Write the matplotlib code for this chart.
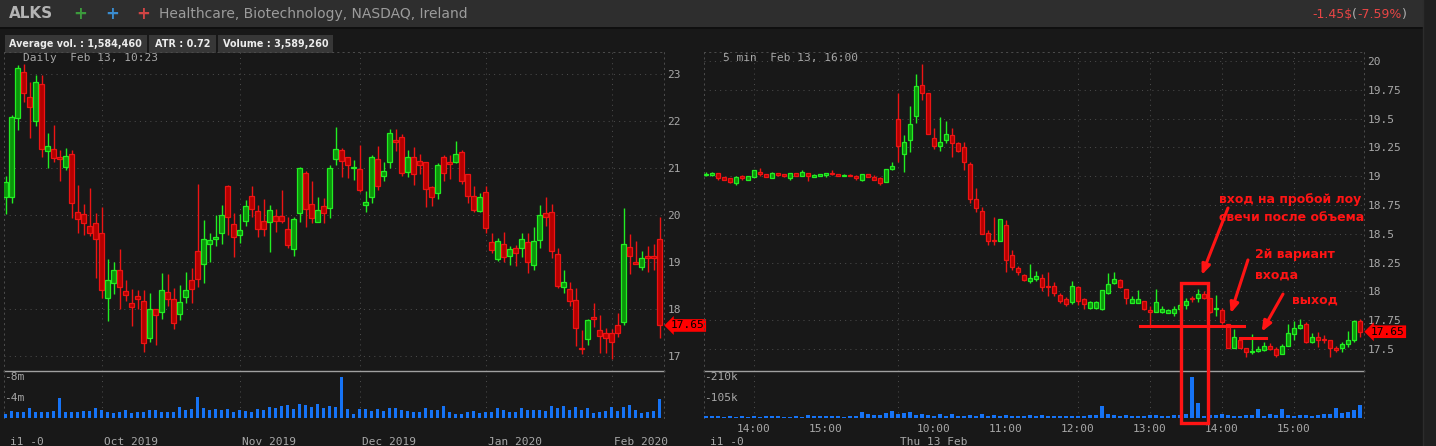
import matplotlib
matplotlib.use("Agg")
import matplotlib.pyplot as plt
from matplotlib.patches import Rectangle
from matplotlib.transforms import blended_transform_factory
import numpy as np
import pandas as pd

W, H = 1436, 446

# ----------------------------
# Daily panel data (Sep 9 2019 .. Feb 13 2020)
# ----------------------------
holidays = ["2019-11-28", "2019-12-25", "2020-01-01", "2020-01-20"]
daily_dates = pd.bdate_range("2019-09-09", "2020-02-13").drop(pd.to_datetime(holidays))

daily_open = [20.38, 20.39, 22.07, 23.04, 22.50, 21.99, 22.78, 21.36, 21.40, 21.23,
              21.03, 21.29, 20.06, 20.02, 19.77, 19.84, 19.62, 18.23, 18.55, 18.84,
              18.38, 18.12, 18.28, 18.16, 17.39, 17.99, 17.93, 18.36, 18.21, 17.89,
              18.26, 18.61, 19.23, 18.95, 19.38, 19.48, 19.61, 20.62, 19.81, 19.57,
              19.87, 20.40, 20.09, 19.87, 19.86, 19.98, 19.98, 19.70, 19.27, 20.05,
              20.89, 20.23, 19.86, 20.19, 20.14, 21.19, 21.38, 21.23, 21.00, 20.98,
              20.22, 20.39, 21.19, 20.82, 21.12, 21.60, 21.65, 20.91, 21.23, 21.15,
              21.12, 20.60, 20.46, 21.23, 21.12, 21.13, 21.33, 20.87, 20.40, 20.09,
              20.48, 19.42, 19.06, 19.38, 19.13, 19.30, 19.29, 19.42, 18.94, 19.47,
              20.04, 20.06, 19.17, 18.47, 18.42, 18.19, 17.17, 17.36, 17.83, 17.55,
              17.48, 17.48, 17.65, 17.72, 19.31, 19.01, 18.90, 19.13, 19.13, 19.48]
daily_high = [20.83, 22.13, 23.19, 23.21, 22.82, 22.98, 22.98, 21.74, 21.91, 21.38,
              21.43, 21.38, 20.64, 20.23, 20.58, 20.04, 20.18, 19.06, 18.99, 19.28,
              18.61, 18.42, 18.40, 18.40, 18.33, 18.01, 18.76, 18.74, 18.44, 18.51,
              18.78, 18.87, 20.66, 19.89, 19.62, 20.00, 20.21, 20.64, 20.04, 20.02,
              20.32, 20.62, 20.21, 20.33, 20.21, 20.12, 20.53, 19.96, 19.96, 21.03,
              20.94, 20.72, 20.38, 20.36, 21.06, 21.87, 21.42, 21.23, 21.17, 21.49,
              20.51, 21.28, 21.47, 21.13, 21.84, 21.82, 21.72, 21.38, 21.44, 21.30,
              21.12, 20.62, 21.10, 21.28, 21.27, 21.57, 21.38, 20.87, 20.62, 20.46,
              20.62, 19.62, 19.52, 19.64, 19.34, 19.36, 19.62, 19.62, 19.75, 20.21,
              20.38, 20.23, 19.29, 18.83, 18.58, 18.44, 17.55, 17.79, 18.13, 17.87,
              17.60, 17.57, 17.92, 20.14, 19.60, 19.45, 19.23, 19.33, 19.38, 19.96]
daily_low = [20.02, 20.26, 21.81, 22.41, 21.64, 21.89, 21.24, 21.01, 21.13, 20.73,
             20.96, 19.93, 19.62, 19.57, 19.55, 18.67, 18.23, 17.75, 18.32, 18.00,
             18.16, 17.64, 18.01, 17.09, 17.30, 17.23, 17.79, 18.06, 17.57, 17.77,
             18.12, 18.12, 18.46, 18.55, 19.01, 19.35, 19.38, 19.57, 19.11, 19.40,
             19.77, 19.95, 19.54, 19.56, 19.22, 19.64, 19.82, 19.29, 19.13, 19.86,
             19.75, 19.84, 19.86, 19.84, 19.94, 21.06, 20.80, 20.78, 20.75, 20.50,
             20.07, 20.26, 20.53, 20.73, 20.99, 21.37, 20.83, 20.80, 20.64, 20.87,
             20.16, 20.19, 20.34, 20.73, 20.77, 21.10, 20.67, 20.26, 20.07, 20.07,
             19.61, 19.20, 19.03, 19.01, 18.94, 18.91, 19.10, 18.76, 18.84, 19.29,
             19.77, 19.08, 18.45, 18.35, 18.07, 17.21, 17.04, 17.23, 17.61, 17.07,
             17.06, 16.93, 17.40, 17.66, 18.74, 18.95, 18.84, 18.78, 18.84, 17.39]
daily_close = [20.70, 22.09, 23.12, 22.60, 22.29, 22.82, 21.41, 21.46, 21.21, 21.19,
               21.25, 20.26, 19.91, 19.82, 19.61, 19.50, 18.40, 18.61, 18.82, 18.47,
               18.29, 18.04, 18.21, 17.27, 17.99, 17.87, 18.40, 18.21, 17.71, 18.15,
               18.40, 18.43, 18.63, 19.48, 19.47, 19.53, 20.01, 19.95, 19.53, 19.68,
               20.19, 20.13, 19.70, 19.70, 20.10, 19.87, 19.88, 19.37, 19.91, 20.99,
               20.13, 19.93, 20.10, 20.05, 20.99, 21.40, 21.14, 21.06, 21.02, 20.53,
               20.27, 21.23, 20.62, 20.94, 21.74, 21.56, 20.90, 21.23, 20.87, 21.07,
               20.55, 20.38, 21.06, 20.90, 21.08, 21.29, 20.73, 20.41, 20.11, 20.38,
               19.73, 19.26, 19.44, 19.10, 19.27, 19.19, 19.50, 19.01, 19.44, 20.00,
               19.96, 19.23, 18.50, 18.57, 18.18, 17.60, 17.14, 17.77, 17.79, 17.43,
               17.39, 17.30, 17.50, 19.38, 19.13, 18.95, 19.08, 19.08, 19.08, 17.65]
# volume in millions
daily_volume = [0.85, 1.31, 1.12, 1.12, 1.90, 1.12, 1.12, 1.12, 1.31, 3.87,
                1.12, 1.12, 1.12, 1.31, 1.31, 1.90, 1.57, 1.12, 0.92, 1.12,
                1.51, 0.92, 1.12, 1.12, 1.51, 1.51, 1.12, 1.12, 1.12, 2.10,
                1.51, 1.71, 4.07, 1.90, 1.51, 1.71, 1.51, 1.71, 1.12, 1.51,
                1.31, 1.12, 1.71, 1.51, 2.10, 1.90, 2.30, 2.49, 1.71, 2.69,
                2.49, 2.10, 2.69, 1.90, 2.30, 2.10, 8.00, 1.71, 0.72, 1.71,
                1.71, 1.31, 1.71, 1.31, 1.90, 1.90, 1.51, 1.31, 1.12, 1.12,
                1.90, 1.51, 1.51, 2.30, 1.12, 0.72, 0.72, 1.12, 1.31, 0.92,
                1.12, 1.12, 1.90, 1.51, 1.12, 1.12, 1.90, 1.51, 1.51, 1.51,
                1.31, 2.30, 1.90, 2.30, 1.51, 2.10, 1.51, 1.90, 0.92, 1.12,
                1.31, 2.10, 1.31, 2.10, 2.49, 1.51, 0.92, 1.12, 1.31, 3.67]
daily_ticks = [17, 18, 19, 20, 21, 22, 23]
daily_vol_ticks = [4, 8]
daily_vol_labels = ["-4m", "-8m"]

# ----------------------------
# 5 min panel data (Feb 12 13:20-16:00, Feb 13 9:30-16:00)
# ----------------------------
intraday_times = pd.DatetimeIndex(
    list(pd.date_range("2020-02-12 13:20", "2020-02-12 15:55", freq="5min"))
    + list(pd.date_range("2020-02-13 09:30", "2020-02-13 15:55", freq="5min")))

m5_open = [19.01, 19.01, 19.03, 18.99, 18.98, 18.94, 19.00, 18.97, 18.99, 19.04,
           19.02, 18.98, 19.03, 19.02, 18.98, 19.03, 19.00, 19.03, 18.99, 19.00,
           19.01, 19.03, 19.02, 19.00, 19.01, 19.00, 18.97, 19.02, 18.99, 18.98,
           18.95, 19.06,
           19.50, 19.19, 19.31, 19.52, 19.79, 19.72, 19.33, 19.26, 19.31, 19.36,
           19.29, 19.25, 19.11, 18.80, 18.70, 18.51, 18.45, 18.44, 18.58, 18.32,
           18.20, 18.14, 18.09, 18.11, 18.12, 18.05, 18.05, 17.97, 17.93, 17.91,
           18.04, 17.93, 17.86, 17.86, 17.85, 17.99, 18.07, 18.10, 18.02, 17.90,
           17.90, 17.92, 17.84, 17.82, 17.82, 17.81, 17.81, 17.85, 17.88, 17.94,
           17.94, 17.98, 17.94, 17.85, 17.84, 17.72, 17.51, 17.58, 17.51, 17.47,
           17.48, 17.49, 17.53, 17.50, 17.46, 17.53, 17.63, 17.68, 17.72, 17.56,
           17.60, 17.59, 17.58, 17.51, 17.51, 17.54, 17.58, 17.74]
m5_high = [19.04, 19.04, 19.03, 18.99, 18.98, 19.00, 19.01, 19.00, 19.05, 19.07,
           19.02, 19.04, 19.03, 19.02, 19.03, 19.03, 19.05, 19.03, 19.02, 19.02,
           19.03, 19.05, 19.02, 19.02, 19.02, 19.01, 19.02, 19.02, 19.01, 18.99,
           19.06, 19.12,
           19.72, 19.36, 19.61, 19.89, 19.97, 19.72, 19.42, 19.51, 19.48, 19.42,
           19.30, 19.30, 19.12, 18.90, 18.73, 18.53, 18.65, 18.63, 18.62, 18.36,
           18.22, 18.15, 18.24, 18.18, 18.15, 18.17, 18.08, 17.99, 17.95, 18.09,
           18.05, 17.94, 17.92, 17.92, 18.01, 18.16, 18.17, 18.11, 18.02, 17.96,
           18.01, 17.92, 17.87, 18.02, 17.87, 17.85, 17.87, 17.90, 17.94, 17.96,
           18.02, 18.00, 17.94, 17.97, 17.86, 17.72, 17.67, 17.60, 17.51, 17.63,
           17.53, 17.56, 17.55, 17.52, 17.54, 17.72, 17.74, 17.76, 17.73, 17.64,
           17.65, 17.62, 17.58, 17.53, 17.56, 17.66, 17.75, 17.76]
m5_low = [19.00, 19.00, 18.97, 18.97, 18.94, 18.92, 18.97, 18.97, 18.99, 19.00,
          18.99, 18.98, 19.00, 18.99, 18.97, 19.00, 19.00, 18.96, 18.99, 19.00,
          18.99, 19.01, 19.00, 19.00, 19.00, 18.97, 18.96, 18.99, 18.97, 18.92,
          18.95, 19.05,
          19.12, 19.04, 19.21, 19.46, 19.66, 19.37, 19.24, 19.22, 19.29, 19.17,
          19.21, 19.05, 18.77, 18.69, 18.50, 18.40, 18.40, 18.44, 18.17, 18.19,
          18.14, 18.09, 18.07, 18.09, 18.00, 17.96, 17.96, 17.90, 17.87, 17.89,
          17.88, 17.85, 17.85, 17.85, 17.84, 17.98, 18.06, 18.03, 17.89, 17.90,
          17.90, 17.84, 17.71, 17.82, 17.81, 17.81, 17.79, 17.82, 17.85, 17.91,
          17.91, 17.93, 17.81, 17.79, 17.72, 17.51, 17.51, 17.51, 17.43, 17.46,
          17.47, 17.48, 17.49, 17.43, 17.46, 17.53, 17.58, 17.67, 17.55, 17.55,
          17.52, 17.55, 17.43, 17.47, 17.47, 17.52, 17.56, 17.60]
m5_close = [19.02, 19.03, 18.98, 18.97, 18.95, 18.99, 18.98, 19.00, 19.05, 19.02,
            18.99, 19.03, 19.01, 19.00, 19.03, 19.00, 19.04, 19.00, 19.01, 19.02,
            19.03, 19.02, 19.00, 19.01, 19.00, 18.98, 19.02, 18.99, 18.97, 18.94,
            19.06, 19.09,
            19.26, 19.30, 19.45, 19.78, 19.72, 19.37, 19.26, 19.30, 19.37, 19.29,
            19.22, 19.12, 18.80, 18.72, 18.50, 18.44, 18.44, 18.63, 18.27, 18.21,
            18.17, 18.10, 18.12, 18.13, 18.04, 18.04, 17.99, 17.92, 17.89, 18.05,
            17.92, 17.89, 17.91, 17.91, 18.01, 18.06, 18.11, 18.04, 17.94, 17.93,
            17.93, 17.85, 17.82, 17.91, 17.85, 17.84, 17.85, 17.88, 17.92, 17.93,
            17.98, 17.94, 17.82, 17.86, 17.73, 17.51, 17.60, 17.51, 17.47, 17.48,
            17.50, 17.53, 17.50, 17.45, 17.53, 17.64, 17.68, 17.71, 17.56, 17.60,
            17.58, 17.58, 17.51, 17.49, 17.54, 17.58, 17.74, 17.65]
# volume in thousands
m5_volume = [9, 9, 9, 7, 9, 7, 9, 7, 9, 7, 9, 9, 9, 7, 7, 9, 7, 14, 10, 9,
             9, 9, 9, 7, 9, 9, 29, 19, 14, 16, 24, 34,
             22, 26, 29, 14, 22, 16, 12, 22, 10, 19, 10, 10, 14, 12, 22, 10, 14, 12,
             14, 10, 10, 10, 14, 10, 14, 10, 10, 10, 9, 9, 9, 10, 14, 16, 60, 19, 14, 10,
             14, 10, 10, 10, 14, 14, 10, 10, 14, 14, 19, 209, 78, 9, 14, 14, 19, 14, 10, 10,
             14, 14, 44, 10, 19, 14, 44, 14, 10, 14, 14, 10, 14, 19, 22, 50, 26, 33, 39, 65]
m5_ticks = [17.5, 17.75, 18, 18.25, 18.5, 18.75, 19, 19.25, 19.5, 19.75, 20]
m5_vol_ticks = [105, 210]
m5_vol_labels = ["-105k", "-210k"]
m5_grid_times = ["2020-02-12 14:00", "2020-02-13 09:30", "2020-02-13 12:00",
                 "2020-02-13 13:00", "2020-02-13 14:00", "2020-02-13 15:00"]

last_price = 17.65

# ----------------------------
# Style
# ----------------------------
BG = "#181818"
GRID = "#4a4a4a"
TXT = "#a8a8a8"
G_EDGE, G_FILL = "#22ee22", "#0b940b"
R_EDGE, R_FILL = "#ee1414", "#b40000"
VOL = "#1673f5"
ANN = "#ff1414"
DOTS = (0, (1, 4))

plt.rcParams["font.family"] = ["DejaVu Sans Mono"]

fig = plt.figure(figsize=(W / 100, H / 100), dpi=100, facecolor=BG)
renderer = fig.canvas.get_renderer()


def px_axes(x0, y0, x1, y1, **kw):
    return fig.add_axes([x0 / W, 1 - y1 / H, (x1 - x0) / W, (y1 - y0) / H], **kw)


# background / header layer
bg = fig.add_axes([0, 0, 1, 1], zorder=-10)
bg.set_xlim(0, W)
bg.set_ylim(H, 0)
bg.axis("off")
bg.add_patch(Rectangle((0, 0), W, 27, color="#2e2e2e", lw=0))
bg.add_patch(Rectangle((0, 27), W, 1.5, color="#0f0f0f", lw=0))
bg.add_patch(Rectangle((1423, 0), W - 1423, H, color="#202020", lw=0))
bg.plot([1423, 1423], [0, H], color="#2c2c2c", lw=1)

bg.text(9, 14, "ALKS", color="#b4b4b4", fontsize=11, fontweight="bold",
        family="DejaVu Sans", va="center", ha="left")
for xx, col in [(80.5, "#3c9a3c"), (112, "#3a8ccf"), (143, "#cf4444")]:
    bg.text(xx, 14, "+", color=col, fontsize=12, fontweight="bold",
            family="DejaVu Sans", va="center", ha="center")
bg.text(159, 14, "Healthcare, Biotechnology, NASDAQ, Ireland", color="#9c9c9c",
        fontsize=10, family="DejaVu Sans", va="center", ha="left")

# change text, coloured piece by piece on one baseline
x = 1312
for s, col in [("-1.45$", "#e84545"), ("(", "#b0b0b0"), ("-7.59%", "#e84545"), (")", "#b0b0b0")]:
    t = bg.text(x, 18, s, color=col, fontsize=9, family="DejaVu Sans",
                va="baseline", ha="left")
    x += t.get_window_extent(renderer).width

for x0, x1, label in [(5, 146.7, "Average vol. : 1,584,460"),
                      (149, 216, "ATR : 0.72"),
                      (218.3, 333.3, "Volume : 3,589,260")]:
    bg.add_patch(Rectangle((x0, 35), x1 - x0, 17.7, color="#373737", lw=0))
    bg.text((x0 + x1) / 2, 44, label, color="#ececec", fontsize=6.9,
            fontweight="bold", family="DejaVu Sans", va="center", ha="center")


def draw_candles(ax, o, h, l, c, width=0.68):
    o, h, l, c = map(np.asarray, (o, h, l, c))
    x = np.arange(len(o))
    up = c >= o
    edge = np.where(up, G_EDGE, R_EDGE)
    face = np.where(up, G_FILL, R_FILL)
    ax.vlines(x, l, h, colors=edge, lw=1, zorder=2)
    ax.bar(x, np.abs(c - o), bottom=np.minimum(o, c), width=width,
           color=face, edgecolor=edge, lw=0.9, zorder=3)


def style_price_axes(ax, ticks, fmt):
    ax.set_facecolor("none")
    ax.set_yticks(ticks)
    ax.set_yticklabels([fmt(v) for v in ticks])
    ax.yaxis.tick_right()
    ax.tick_params(axis="y", length=0, pad=2.5, labelcolor=TXT, labelsize=8)
    ax.tick_params(axis="x", length=0, labelbottom=False)
    ax.grid(True, color=GRID, linestyle=DOTS, lw=0.75)
    for side in ["top", "left", "right"]:
        ax.spines[side].set_color(GRID)
        ax.spines[side].set_linestyle(DOTS)
        ax.spines[side].set_linewidth(0.75)
    ax.spines["bottom"].set_visible(False)


def style_vol_axes(ax, ticks, labels):
    ax.set_facecolor("none")
    ax.set_yticks([])
    ax.tick_params(axis="x", length=0, labelbottom=False)
    ax.xaxis.grid(True, color=GRID, linestyle=DOTS, lw=0.75)
    for side in ["left", "right"]:
        ax.spines[side].set_color(GRID)
        ax.spines[side].set_linestyle(DOTS)
        ax.spines[side].set_linewidth(0.75)
    ax.spines["bottom"].set_visible(False)
    ax.spines["top"].set_color("#a0a0a0")
    ax.spines["top"].set_linewidth(1)
    tr = blended_transform_factory(ax.transAxes, ax.transData)
    for v, s in zip(ticks, labels):
        ax.text(0.0, v, s, transform=tr, color=TXT, fontsize=8, va="center", ha="left")


def price_tag(ax, price):
    tr = blended_transform_factory(ax.transAxes, ax.transData)
    ax.text(1.0 + 7 / 660, price, f"{price:.2f}", transform=tr, color="#000000",
            fontsize=8, va="center", ha="left", zorder=6,
            bbox=dict(boxstyle="larrow,pad=0.12", fc="#ff0000", ec="none"))


# ----------------------------
# Daily panel
# ----------------------------
ax_dv = px_axes(4, 371, 664, 418)
ax_d = px_axes(4, 52, 664, 371)
n_d = len(daily_open)
ax_d.set_xlim(-0.25, n_d - 0.25)
ax_dv.set_xlim(-0.25, n_d - 0.25)
ax_d.set_ylim(16.681, 23.468)
ax_dv.set_ylim(0, 9.25)

draw_candles(ax_d, daily_open, daily_high, daily_low, daily_close)
ax_dv.bar(np.arange(n_d), daily_volume, width=0.65, color=VOL, zorder=3)

month_idx = [i for i in range(1, n_d) if daily_dates[i].month != daily_dates[i - 1].month]
style_price_axes(ax_d, daily_ticks, lambda v: f"{v:g}")
ax_d.set_xticks(month_idx)
style_vol_axes(ax_dv, daily_vol_ticks, daily_vol_labels)
ax_dv.set_xticks(month_idx)
trx = blended_transform_factory(ax_dv.transData, ax_dv.transAxes)
for i in month_idx:
    ax_dv.text(i + 0.45, -0.51, daily_dates[i].strftime("%b %Y"), transform=trx,
               color=TXT, fontsize=8, va="center", ha="left")
ax_d.text(19 / 660, 1 - 6 / 319, "Daily  Feb 13, 10:23", transform=ax_d.transAxes,
          color=TXT, fontsize=8, va="center", ha="left")
price_tag(ax_d, last_price)
bg.text(10, 442, "i1 -0", color=TXT, fontsize=8, va="center", ha="left")

# ----------------------------
# 5 min panel
# ----------------------------
ax_mv = px_axes(704, 371, 1364, 418)
ax_m = px_axes(704, 52, 1364, 371)
n_m = len(m5_open)
ax_m.set_xlim(-0.283, n_m - 0.28)
ax_mv.set_xlim(-0.283, n_m - 0.28)
ax_m.set_ylim(17.309, 20.078)
ax_mv.set_ylim(0, 241)

draw_candles(ax_m, m5_open, m5_high, m5_low, m5_close)
ax_mv.bar(np.arange(n_m), m5_volume, width=0.65, color=VOL, zorder=3)

grid_idx = [intraday_times.get_loc(pd.Timestamp(s)) for s in m5_grid_times]
style_price_axes(ax_m, m5_ticks, lambda v: f"{v:g}")
ax_m.set_xticks(grid_idx)
style_vol_axes(ax_mv, m5_vol_ticks, m5_vol_labels)
ax_mv.set_xticks(grid_idx)
trx = blended_transform_factory(ax_mv.transData, ax_mv.transAxes)
hour_idx = [i for i, t in enumerate(intraday_times) if t.minute == 0]
for i in hour_idx:
    ax_mv.text(i, -0.234, intraday_times[i].strftime("%H:%M"), transform=trx,
               color=TXT, fontsize=8, va="center", ha="center")
day_start = [i for i in range(1, n_m) if intraday_times[i].day != intraday_times[i - 1].day][0]
ax_mv.text(day_start + 6, -0.511, intraday_times[day_start].strftime("%a %d %b"),
           transform=trx, color=TXT, fontsize=8, va="center", ha="center")
ax_m.text(19 / 660, 1 - 6 / 319, "5 min  Feb 13, 16:00", transform=ax_m.transAxes,
          color=TXT, fontsize=8, va="center", ha="left")
price_tag(ax_m, last_price)
bg.text(710, 442, "i1 -0", color=TXT, fontsize=8, va="center", ha="left")

# ----------------------------
# hand drawn notes
# ----------------------------
ann_font = dict(color=ANN, fontsize=9, fontweight="bold", family="DejaVu Sans",
                va="center", ha="left", zorder=7)
ax_m.text(85.55, 18.802, "вход на пробой лоу", **ann_font)
ax_m.text(85.55, 18.643, "свечи после объема", **ann_font)
ax_m.text(91.55, 18.316, "2й вариант", **ann_font)
ax_m.text(91.55, 18.142, "входа", **ann_font)
ax_m.text(97.67, 17.925, "выход", **ann_font)

arrow = dict(arrowstyle="-|>,head_length=0.6,head_width=0.25", color=ANN, lw=2.2,
             shrinkA=0, shrinkB=0)
for tail, head in [((87.05, 18.724), (82.67, 18.142)),
                   ((90.38, 18.273), (87.5, 17.81)),
                   ((96.22, 17.977), (92.67, 17.65))]:
    ax_m.annotate("", xy=head, xytext=tail, arrowprops=arrow, zorder=7)

ax_m.plot([72.38, 89.72], [17.702, 17.702], color=ANN, lw=2.2, zorder=7)
ax_m.plot([89.05, 93.33], [17.593, 17.593], color=ANN, lw=2.2, zorder=7)
ax_m.add_patch(Rectangle((79.17, 16.86), 4.5, 1.216, fill=False, ec=ANN, lw=2.4,
                         clip_on=False, zorder=7))

fig.savefig("out.png", dpi=100, facecolor=BG)
